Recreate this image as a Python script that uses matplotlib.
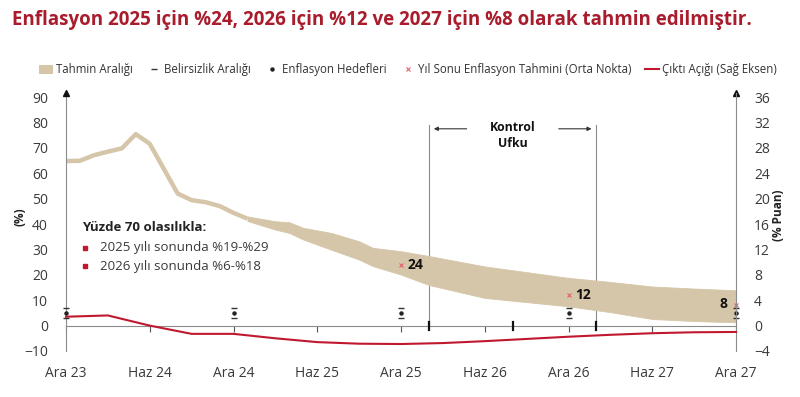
import matplotlib
matplotlib.use('Agg')
import matplotlib.pyplot as plt
from matplotlib.patches import Patch
from matplotlib.lines import Line2D

plt.rcParams['font.family'] = ['Open Sans', 'DejaVu Sans']

# months counted from Dec 2023 (0) to Dec 2027 (48)
tick_months = [0, 6, 12, 18, 24, 30, 36, 42, 48]
tick_labels = ['Ara 23', 'Haz 24', 'Ara 24', 'Haz 25', 'Ara 25',
               'Haz 26', 'Ara 26', 'Haz 27', 'Ara 27']

# realised inflation (annual %, monthly)
hist_months = list(range(0, 14))
hist_infl = [64.8, 64.9, 67.1, 68.5, 69.8, 75.4, 71.6, 61.8, 52.0, 49.4,
             48.6, 47.1, 44.4, 42.1]

# forecast range (upper / lower edge)
band_months = [13, 15, 16, 17, 19, 21, 22, 24, 26, 30, 36, 39, 42, 45, 48]
band_upper = [43.0, 41.1, 40.7, 38.5, 36.5, 33.2, 30.6, 29.3, 27.4,
              23.3, 18.8, 17.2, 15.4, 14.6, 13.9]
band_lower = [41.2, 37.8, 36.5, 33.9, 29.9, 26.0, 23.4, 20.1, 16.0,
              10.9, 7.6, 5.3, 2.6, 1.8, 1.3]

# inflation targets and uncertainty band (year ends)
target_months = [0, 12, 24, 36, 48]
targets = [5, 5, 5, 5, 5]
unc_low = [3, 3, 3, 3, 3]
unc_high = [7, 7, 7, 7, 7]

# year-end mid-point forecasts
mid_months = [24, 36, 48]
mid_values = [24, 12, 8]

# output gap (right axis, quarterly)
gap_months = [0, 3, 6, 9, 12, 15, 18, 21, 24, 27, 30, 33, 36, 39, 42, 45, 48]
gap_values = [1.4, 1.6, 0.0, -1.3, -1.3, -2.0, -2.6, -2.85, -2.9, -2.75,
              -2.45, -2.1, -1.75, -1.45, -1.2, -1.05, -1.0]

# control horizon
ctrl_start, ctrl_end = 26, 38

band_col = '#D6C6A9'
red = '#C0182F'
grey = '#8C8C8C'
txt = '#3A3A3A'

fig = plt.figure(figsize=(8, 3.97), dpi=100)
ax = fig.add_axes([66/800, 1 - 351/397, (736-66)/800, (351-93)/397])
ax2 = ax.twinx()

ax.set_xlim(0, 48)
ax.set_ylim(-10, 91.6)
ax2.set_ylim(-4, 36.64)

ax.plot(hist_months, hist_infl, color=band_col, lw=3.2,
        solid_capstyle='butt', solid_joinstyle='round', zorder=2)
ax.fill_between(band_months, band_lower, band_upper, color=band_col, lw=0.6,
                edgecolor=band_col, zorder=2)

ax.plot(target_months, targets, ls='none', marker='o', ms=2.2, color='#222222',
        zorder=5, clip_on=False)
ax.plot(target_months, unc_low, ls='none', marker='_', ms=5, mew=1,
        color='#333333', zorder=5, clip_on=False)
ax.plot(target_months, unc_high, ls='none', marker='_', ms=5, mew=1,
        color='#333333', zorder=5, clip_on=False)

ax.plot(mid_months, mid_values, ls='none', marker='x', ms=3.5, mew=0.8,
        color='#E06070', zorder=6, clip_on=False)
for m, v in zip(mid_months, mid_values):
    if m == 48:
        ax.text(m - 0.6, v + 0.5, str(v), ha='right', va='center', fontsize=10,
                fontweight='bold', color='#111111')
    else:
        ax.text(m + 0.5, v, str(v), ha='left', va='center', fontsize=10,
                fontweight='bold', color='#111111')

ax2.plot(gap_months, gap_values, color=red, lw=1.5, zorder=4, clip_on=False)

# control horizon lines and arrows
for m in (ctrl_start, ctrl_end):
    ax.plot([m, m], [0, 79], color=grey, lw=0.8, zorder=1)
for m in (ctrl_start, (ctrl_start + ctrl_end) / 2, ctrl_end):
    ax.plot([m, m], [-1.6, 1.6], color='#111111', lw=1.6, zorder=3)
ax.text((ctrl_start + ctrl_end) / 2, 75, 'Kontrol\nUfku', ha='center',
        va='center', fontsize=8.8, fontweight='bold', color='#111111',
        linespacing=1.3)
ax.annotate('', xy=(ctrl_start + 0.15, 77.5), xytext=(ctrl_start + 2.9, 77.5),
            arrowprops=dict(arrowstyle='-|>', color='#333333', lw=0.8,
                            mutation_scale=6))
ax.annotate('', xy=(ctrl_end - 0.15, 77.5), xytext=(ctrl_end - 2.9, 77.5),
            arrowprops=dict(arrowstyle='-|>', color='#333333', lw=0.8,
                            mutation_scale=6))

# axes styling
for a in (ax, ax2):
    for s in a.spines.values():
        s.set_visible(False)
ax.spines['left'].set_visible(True)
ax.spines['left'].set_color(grey)
ax2.spines['right'].set_visible(True)
ax2.spines['right'].set_color(grey)
ax.spines['bottom'].set_visible(True)
ax.spines['bottom'].set_position(('data', 0))
ax.spines['bottom'].set_color(grey)

ax.set_xticks(tick_months)
ax.set_xticklabels(tick_labels)
ax.tick_params(axis='x', direction='out', length=4, width=0.8, color='#555555',
               pad=25, labelsize=10, labelcolor=txt)
ax.set_yticks(range(-10, 91, 10))
ax.tick_params(axis='y', length=0, pad=13, labelsize=10, labelcolor=txt)
ax2.set_yticks(range(-4, 37, 4))
ax2.tick_params(axis='y', length=0, pad=13, labelsize=10, labelcolor=txt)

# arrow heads on vertical axes
ax.plot([0], [1], marker='^', ms=5, color='#111111', transform=ax.transAxes,
        clip_on=False, zorder=7)
ax.plot([1], [1], marker='^', ms=5, color='#111111', transform=ax.transAxes,
        clip_on=False, zorder=7)

fig.text(20/800, 1 - 217/397, '(%)', rotation=90, ha='center', va='center',
         fontsize=8.5, fontweight='bold', color='#222222')
fig.text(778/800, 1 - 215/397, '(% Puan)', rotation=90, ha='center',
         va='center', fontsize=8.5, fontweight='bold', color='#222222')

# probability box
ax.text(1.15, 38.5, 'Yüzde 70 olasılıkla:', fontsize=9.5, fontweight='bold',
        color='#222222', va='center')
ax.plot([1.35, 1.35], [30.6, 23.4], ls='none', marker='s', ms=3.5, color=red)
ax.text(2.4, 30.6, '2025 yılı sonunda %19-%29', fontsize=9.5, color=txt,
        va='center')
ax.text(2.4, 23.4, '2026 yılı sonunda %6-%18', fontsize=9.5, color=txt,
        va='center')

fig.text(12/800, 1 - 20/397,
         'Enflasyon 2025 için %24, 2026 için %12 ve 2027 için %8 olarak tahmin edilmiştir.',
         fontsize=13.5, fontweight='bold', color='#A81C2C', va='center')

handles = [Patch(facecolor=band_col, edgecolor='none'),
           Line2D([], [], ls='none', marker='_', ms=5, color='#333333'),
           Line2D([], [], ls='none', marker='o', ms=2.2, color='#222222'),
           Line2D([], [], ls='none', marker='x', ms=3.5, mew=0.8, color='#E06070'),
           Line2D([], [], color=red, lw=1.5)]
labels = ['Tahmin Aralığı', 'Belirsizlik Aralığı', 'Enflasyon Hedefleri',
          'Yıl Sonu Enflasyon Tahmini (Orta Nokta)', 'Çıktı Açığı (Sağ Eksen)']
leg = fig.legend(handles, labels, loc='center', ncol=5, frameon=False,
                 bbox_to_anchor=(408/800, 1 - 70/397), fontsize=8.3,
                 handlelength=1.2, handletextpad=0.3, columnspacing=1.2,
                 labelcolor='#333333')

fig.savefig('out.png', dpi=100)
